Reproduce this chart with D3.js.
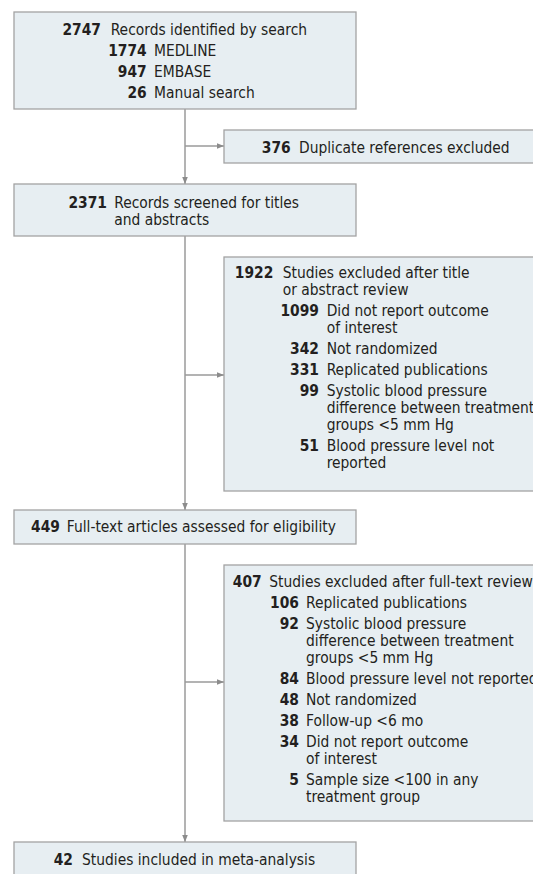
<!DOCTYPE html>
<html>
<head>
<meta charset="utf-8">
<script src="https://cdn.jsdelivr.net/npm/d3@7"></script>
<style>
  body { margin: 0; background: #fff; }
  text { font-family: "DejaVu Sans Condensed", "DejaVu Sans", sans-serif; font-stretch: condensed; font-size: 15.4px; fill: #231f20; }
  .num { font-weight: bold; }
</style>
</head>
<body>
<script>
// flow counts and labels
var stageCounts = [2747, 2371, 449, 42];
var stageLabels = [["Records identified by search"],
                   ["Records screened for titles", "and abstracts"],
                   ["Full-text articles assessed for eligibility"],
                   ["Studies included in meta-analysis"]];

var sourceCounts = [1774, 947, 26];
var sourceNames = [["MEDLINE"], ["EMBASE"], ["Manual search"]];

var excludedCounts = [376, 1922, 407];
var excludedLabels = [["Duplicate references excluded"],
                      ["Studies excluded after title", "or abstract review"],
                      ["Studies excluded after full-text review"]];

var titleReasonCounts = [1099, 342, 331, 99, 51];
var titleReasons = [["Did not report outcome", "of interest"],
                    ["Not randomized"],
                    ["Replicated publications"],
                    ["Systolic blood pressure", "difference between treatment", "groups <5 mm Hg"],
                    ["Blood pressure level not", "reported"]];

var fullTextReasonCounts = [106, 92, 84, 48, 38, 34, 5];
var fullTextReasons = [["Replicated publications"],
                       ["Systolic blood pressure", "difference between treatment", "groups <5 mm Hg"],
                       ["Blood pressure level not reported"],
                       ["Not randomized"],
                       ["Follow-up <6 mo"],
                       ["Did not report outcome", "of interest"],
                       ["Sample size <100 in any", "treatment group"]];

var W = 533, H = 874;
var lineH = 17, itemGap = 21;
var mainX = 185;

var svg = d3.select("body").append("svg")
            .attr("width", W)
            .attr("height", H);

svg.append("defs").append("marker")
   .attr("id", "head")
   .attr("viewBox", "0 0 10 10")
   .attr("refX", 10).attr("refY", 5)
   .attr("markerWidth", 7).attr("markerHeight", 7)
   .attr("markerUnits", "userSpaceOnUse")
   .attr("orient", "auto")
   .append("path")
   .attr("d", "M0,1L10,5L0,9Z")
   .style("fill", "#8c8c8c");

var lines = svg.append("g");
var boxes = svg.append("g");

// build the entries for one box: a list of {count, lines, col}
function entries(counts, labels, col){
  return counts.map(function(c, i){ return {count: c, lines: labels[i], col: col}; });
}

// draw one box with its text block
function drawBox(b){
  var g = boxes.append("g");
  g.append("rect")
   .attr("x", b.x).attr("y", b.y)
   .attr("width", b.w).attr("height", b.h)
   .style("fill", "#e7eef2")
   .style("stroke", "#a3a3a3")
   .style("stroke-width", 1.3);

  var y = b.base;
  b.items.forEach(function(it, k){
    if(k > 0) y += itemGap;
    var c = b.cols[it.col];
    g.append("text").attr("class", "num")
     .attr("x", c[0]).attr("y", y)
     .attr("text-anchor", "end")
     .text(it.count);
    it.lines.forEach(function(t, j){
      if(j > 0) y += lineH;
      g.append("text")
       .attr("x", c[1]).attr("y", y)
       .text(t);
    });
  });
}

// arrows
function arrow(x1, y1, x2, y2, head){
  var l = lines.append("line")
       .attr("x1", x1).attr("y1", y1)
       .attr("x2", x2).attr("y2", y2)
       .style("stroke", "#9a9a9a")
       .style("stroke-width", 1.5);
  if(head) l.attr("marker-end", "url(#head)");
}

arrow(mainX, 109, mainX, 184, true);
arrow(mainX, 236, mainX, 510, true);
arrow(mainX, 544, mainX, 842, true);
arrow(mainX, 146, 224, 146, true);
arrow(mainX, 375, 224, 375, true);
arrow(mainX, 682, 224, 682, true);

drawBox({x: 14, y: 12, w: 342, h: 97, base: 35,
         cols: [[101, 110.7], [146.7, 154]],
         items: entries([stageCounts[0]], [stageLabels[0]], 0)
                  .concat(entries(sourceCounts, sourceNames, 1))});

drawBox({x: 224, y: 130, w: 320, h: 33, base: 153,
         cols: [[290.7, 299]],
         items: entries([excludedCounts[0]], [excludedLabels[0]], 0)});

drawBox({x: 14, y: 184, w: 342, h: 52, base: 207.5,
         cols: [[107, 114.3]],
         items: entries([stageCounts[1]], [stageLabels[1]], 0)});

drawBox({x: 224, y: 257, w: 320, h: 234, base: 278,
         cols: [[273.3, 282.7], [319, 326.7]],
         items: entries([excludedCounts[1]], [excludedLabels[1]], 0)
                  .concat(entries(titleReasonCounts, titleReasons, 1))});

drawBox({x: 14, y: 510, w: 342, h: 34, base: 532,
         cols: [[60, 66.8]],
         items: entries([stageCounts[2]], [stageLabels[2]], 0)});

drawBox({x: 224, y: 565, w: 320, h: 256, base: 587,
         cols: [[261.7, 269.3], [299, 306]],
         items: entries([excludedCounts[2]], [excludedLabels[2]], 0)
                  .concat(entries(fullTextReasonCounts, fullTextReasons, 1))});

drawBox({x: 14, y: 842, w: 342, h: 40, base: 865,
         cols: [[73, 82]],
         items: entries([stageCounts[3]], [stageLabels[3]], 0)});
</script>
</body>
</html>
